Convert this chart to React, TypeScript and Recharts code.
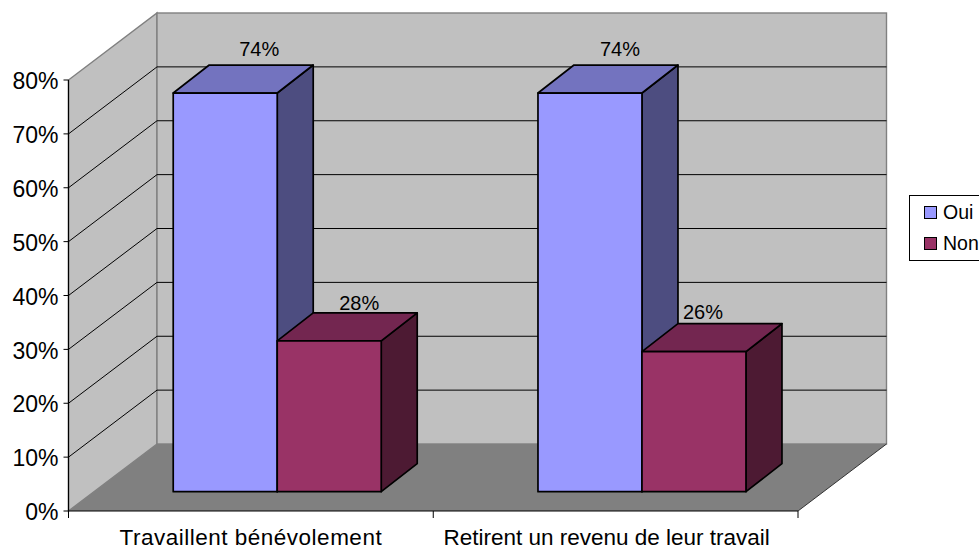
import { BarChart, Bar, XAxis, YAxis, CartesianGrid, Legend, LabelList } from 'recharts';

const categories = ['Travaillent bénévolement', 'Retirent un revenu de leur travail'];
const oui = [74, 74];
const non = [28, 26];
const yTicks = [0, 10, 20, 30, 40, 50, 60, 70, 80];

const data = categories.map((name, i) => ({ name, oui: oui[i], non: non[i] }));

const FONT = '"Liberation Sans", Arial, sans-serif';
const WIDTH = 979;
const HEIGHT = 549;

// front plane of the plot box
const LEFT = 68.5;
const RIGHT = 798;
const TOP = 80;
const BOTTOM = 511;
// how far the back wall is pushed away from the front plane
const WALL_DX = 88.5;
const WALL_DY = -67;
// bars stand in the middle of the floor
const BAR_DX = 26.3;
const BAR_DY = -19.3;
const BAR_DEPTH_X = 36;
const BAR_DEPTH_Y = -28;

const BAND = (RIGHT - LEFT) / categories.length;

const shades: Record<string, { top: string; side: string }> = {
  '#9999FF': { top: '#7373BF', side: '#4D4D80' },
  '#993366': { top: '#732650', side: '#4D1A33' },
};

function pts(list: number[][]) {
  return list.map((p) => p.join(',')).join(' ');
}

function Box3D(props: any) {
  const { x, y, width, height, fill } = props;
  const l = x + BAR_DX;
  const r = l + width;
  const t = y + BAR_DY;
  const b = t + height;
  const dx = BAR_DEPTH_X;
  const dy = BAR_DEPTH_Y;
  const common = { stroke: '#000', strokeWidth: 1.7, strokeLinejoin: 'round' as const };
  return (
    <g>
      <polygon points={pts([[r, t], [r + dx, t + dy], [r + dx, b + dy], [r, b]])} fill={shades[fill].side} {...common} />
      <polygon points={pts([[l, t], [l + dx, t + dy], [r + dx, t + dy], [r, t]])} fill={shades[fill].top} {...common} />
      <rect x={l} y={t} width={width} height={height} fill={fill} {...common} />
    </g>
  );
}

// plain svg behind the chart: side wall, back wall and floor
function Walls() {
  const edge = { stroke: '#808080', strokeWidth: 1.4 };
  return (
    <svg width={WIDTH} height={HEIGHT} style={{ position: 'absolute', left: 0, top: 0 }}>
      <polygon
        points={pts([[LEFT, TOP], [LEFT + WALL_DX, TOP + WALL_DY], [LEFT + WALL_DX, BOTTOM + WALL_DY], [LEFT, BOTTOM]])}
        fill="#C0C0C0"
        {...edge}
      />
      <rect
        x={LEFT + WALL_DX}
        y={TOP + WALL_DY}
        width={RIGHT - LEFT}
        height={BOTTOM - TOP}
        fill="#C0C0C0"
        {...edge}
      />
      <polygon
        points={pts([[LEFT, BOTTOM], [LEFT + WALL_DX, BOTTOM + WALL_DY], [RIGHT + WALL_DX, BOTTOM + WALL_DY], [RIGHT, BOTTOM]])}
        fill="#808080"
      />
      <line x1={RIGHT} y1={BOTTOM} x2={RIGHT + WALL_DX} y2={BOTTOM + WALL_DY} stroke="#333" strokeWidth={1} />
    </svg>
  );
}

// gridline runs up the side wall, then along the back wall
function wallGridLine(props: any) {
  const { x1, x2, y1, index } = props;
  if (y1 <= TOP + 1 || y1 >= BOTTOM - 1) return <g key={index} />;
  return (
    <polyline
      key={index}
      points={pts([[x1, y1], [x1 + WALL_DX, y1 + WALL_DY], [x2 + WALL_DX, y1 + WALL_DY]])}
      fill="none"
      stroke="#000"
      strokeWidth={1}
    />
  );
}

const xTickShift = [0, -9];
const xTickSpacing = [0.5, 0];

// tick marks sit between the categories, not under them
function XTick(props: any) {
  const { x, y, payload, index } = props;
  const isLast = index === categories.length - 1;
  return (
    <g>
      <line x1={x - BAND / 2} x2={x - BAND / 2} y1={BOTTOM} y2={BOTTOM + 7} stroke="#000" />
      {isLast && <line x1={x + BAND / 2} x2={x + BAND / 2} y1={BOTTOM} y2={BOTTOM + 7} stroke="#000" />}
      <text
        x={x + xTickShift[index]}
        y={BOTTOM + 26}
        textAnchor="middle"
        dominantBaseline="central"
        fontFamily={FONT}
        fontSize={22.5}
        letterSpacing={xTickSpacing[index]}
        fill="#000"
      >
        {payload.value}
      </text>
    </g>
  );
}

const ouiLabelShift = [
  [34, -44],
  [30, -44],
];
const nonLabelShift = [
  [30, -38],
  [9, -40],
];

function barLabel(shift: number[][]) {
  return (props: any) => {
    const { x, y, width, value, index } = props;
    return (
      <text
        x={x + BAR_DX + width / 2 + shift[index][0]}
        y={y + BAR_DY + shift[index][1]}
        textAnchor="middle"
        dominantBaseline="central"
        fontFamily={FONT}
        fontSize={20}
        fill="#000"
      >
        {value}%
      </text>
    );
  };
}

function LegendBox({ payload }: any) {
  return (
    <div
      style={{
        boxSizing: 'border-box',
        width: 90,
        height: 66,
        border: '1px solid #000',
        background: '#fff',
        fontFamily: FONT,
        fontSize: 19.5,
        color: '#000',
        padding: '0 0 0 14px',
      }}
    >
      {(payload || []).map((item: any) => (
        <div key={item.value} style={{ display: 'flex', alignItems: 'center', height: 30, marginTop: 1 }}>
          <span
            style={{
              boxSizing: 'border-box',
              width: 13,
              height: 13,
              border: '1.5px solid #000',
              background: item.color,
              marginRight: 6,
            }}
          />
          {item.value}
        </div>
      ))}
    </div>
  );
}

export default function App() {
  return (
    <div style={{ position: 'absolute', left: 0, top: 0, width: WIDTH, height: HEIGHT, overflow: 'hidden', background: '#fff' }}>
      <Walls />
      <BarChart
        width={WIDTH}
        height={HEIGHT}
        data={data}
        margin={{ top: TOP, right: WIDTH - RIGHT, bottom: 0, left: 0 }}
        barCategoryGap="21.5%"
        barGap={0}
      >
        <CartesianGrid vertical={false} horizontal={wallGridLine} />
        <XAxis
          dataKey="name"
          height={HEIGHT - BOTTOM}
          interval={0}
          tickLine={false}
          axisLine={{ stroke: '#000', strokeWidth: 1.2 }}
          tick={XTick}
        />
        <YAxis
          domain={[0, 80]}
          ticks={yTicks}
          width={LEFT}
          tickSize={5}
          tickMargin={5}
          tickFormatter={(v: number) => `${v}%`}
          tickLine={{ stroke: '#000' }}
          axisLine={{ stroke: '#000', strokeWidth: 1.2 }}
          tick={{ fontFamily: FONT, fontSize: 23, fill: '#000', dy: 1 }}
        />
        <Legend
          layout="vertical"
          align="center"
          verticalAlign="middle"
          itemSorter={null}
          content={LegendBox}
          wrapperStyle={{ position: 'absolute', left: 909, top: 195, width: 90, height: 66 }}
        />
        <Bar dataKey="oui" name="Oui" fill="#9999FF" shape={Box3D} isAnimationActive={false}>
          <LabelList dataKey="oui" content={barLabel(ouiLabelShift)} />
        </Bar>
        <Bar dataKey="non" name="Non" fill="#993366" shape={Box3D} isAnimationActive={false}>
          <LabelList dataKey="non" content={barLabel(nonLabelShift)} />
        </Bar>
      </BarChart>
    </div>
  );
}
